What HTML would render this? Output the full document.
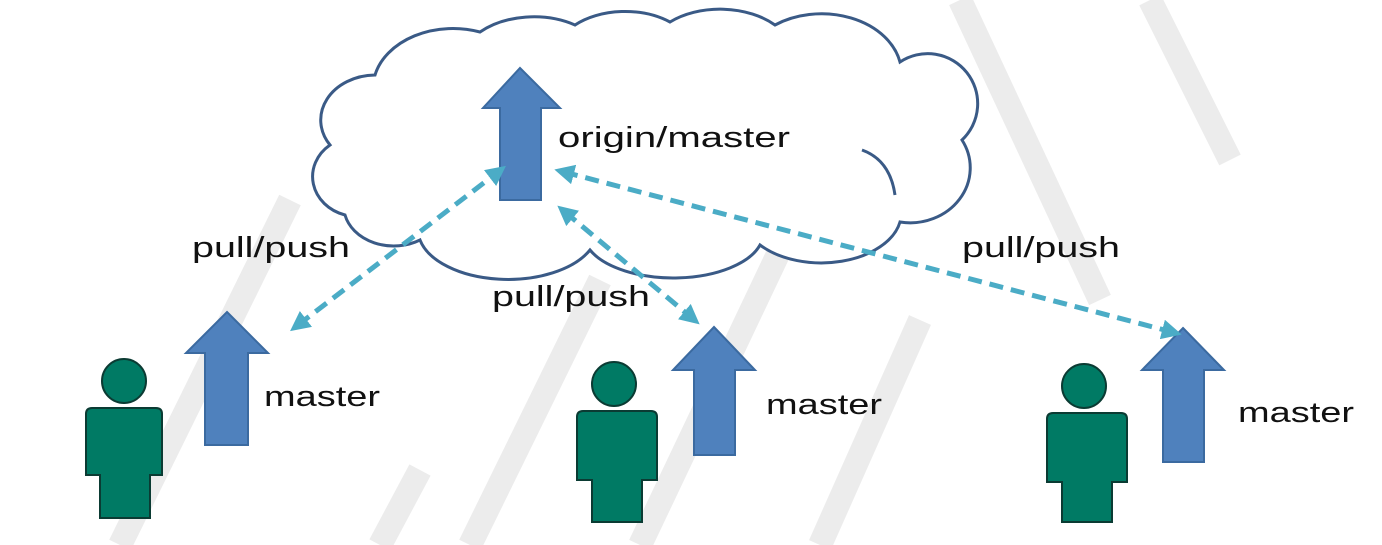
<!DOCTYPE html>
<html><head><meta charset="utf-8"><style>
html,body{margin:0;padding:0;background:#fff}
svg{display:block}
text{font-family:"Liberation Sans",sans-serif;font-size:29px;fill:#111}
</style></head><body>
<svg width="1382" height="545" viewBox="0 0 1382 545">
<defs>
<marker id="ah" markerWidth="4" markerHeight="4" refX="2" refY="2" orient="auto-start-reverse" markerUnits="strokeWidth">
<path d="M0,0 L4,2 L0,4 Z" fill="#4bacc6"/>
</marker>
</defs>
<!-- watermark -->
<g stroke="#ececec" stroke-width="24" fill="none">
<path d="M120 545 L290 200"/>
<path d="M380 545 L420 470"/>
<path d="M470 545 L600 280"/>
<path d="M640 545 L780 250"/>
<path d="M820 545 L920 320"/>
<path d="M960 0 L1100 300"/>
<path d="M1150 0 L1230 160"/>
</g>
<!-- cloud -->
<path d="M345 215 A45 40 0 0 1 330 145 A55 45 0 0 1 375 75 A80 60 0 0 1 480 32 A75 50 0 0 1 575 25 A70 45 0 0 1 670 22 A75 50 0 0 1 775 25 A80 60 0 0 1 900 62 A50 50 0 0 1 962 140 A60 55 0 0 1 900 222 A80 50 0 0 1 760 245 A90 45 0 0 1 590 250 A90 50 0 0 1 420 240 A50 40 0 0 1 345 215 Z" fill="#fff" stroke="#3a5a86" stroke-width="3"/>
<path d="M862 150 Q890 160 895 195" stroke="#3a5a86" stroke-width="3" fill="none"/>
<!-- arrows (blue) -->
<g fill="#4f81bd" stroke="#3b6aa0" stroke-width="2">
<path d="M520 68 L560 108 L541 108 L541 200 L500 200 L500 108 L483 108 Z"/>
<path d="M227 312 L268 353 L248 353 L248 445 L205 445 L205 353 L186 353 Z"/>
<path d="M714 327 L755 370 L735 370 L735 455 L694 455 L694 370 L673 370 Z"/>
<path d="M1183 328 L1224 370 L1204 370 L1204 462 L1163 462 L1163 370 L1142 370 Z"/>
</g>
<!-- persons -->
<g fill="#007a64" stroke="#0b3b33" stroke-width="2">
<circle cx="124" cy="381" r="22"/>
<path d="M92 408 L156 408 Q162 408 162 414 L162 475 L150 475 L150 518 L100 518 L100 475 L86 475 L86 414 Q86 408 92 408 Z"/>
<circle cx="614" cy="384" r="22"/>
<path d="M583 411 L651 411 Q657 411 657 417 L657 480 L642 480 L642 522 L592 522 L592 480 L577 480 L577 417 Q577 411 583 411 Z"/>
<circle cx="1084" cy="386" r="22"/>
<path d="M1053 413 L1121 413 Q1127 413 1127 419 L1127 482 L1112 482 L1112 522 L1062 522 L1062 482 L1047 482 L1047 419 Q1047 413 1053 413 Z"/>
</g>
<!-- dashed connectors -->
<g stroke="#4bacc6" stroke-width="5" stroke-dasharray="14 8" fill="none">
<line x1="298" y1="325" x2="498" y2="172" marker-start="url(#ah)" marker-end="url(#ah)"/>
<line x1="565" y1="212" x2="692" y2="318" marker-start="url(#ah)" marker-end="url(#ah)"/>
<line x1="564" y1="172" x2="1172" y2="332" marker-start="url(#ah)" marker-end="url(#ah)"/>
</g>
<!-- labels -->
<text x="558" y="147" textLength="232" lengthAdjust="spacingAndGlyphs">origin/master</text>
<text x="192" y="257" textLength="158" lengthAdjust="spacingAndGlyphs">pull/push</text>
<text x="492" y="306" textLength="158" lengthAdjust="spacingAndGlyphs">pull/push</text>
<text x="962" y="257" textLength="158" lengthAdjust="spacingAndGlyphs">pull/push</text>
<text x="264" y="406" textLength="116" lengthAdjust="spacingAndGlyphs">master</text>
<text x="766" y="414" textLength="116" lengthAdjust="spacingAndGlyphs">master</text>
<text x="1238" y="422" textLength="116" lengthAdjust="spacingAndGlyphs">master</text>
</svg>
</body></html>
